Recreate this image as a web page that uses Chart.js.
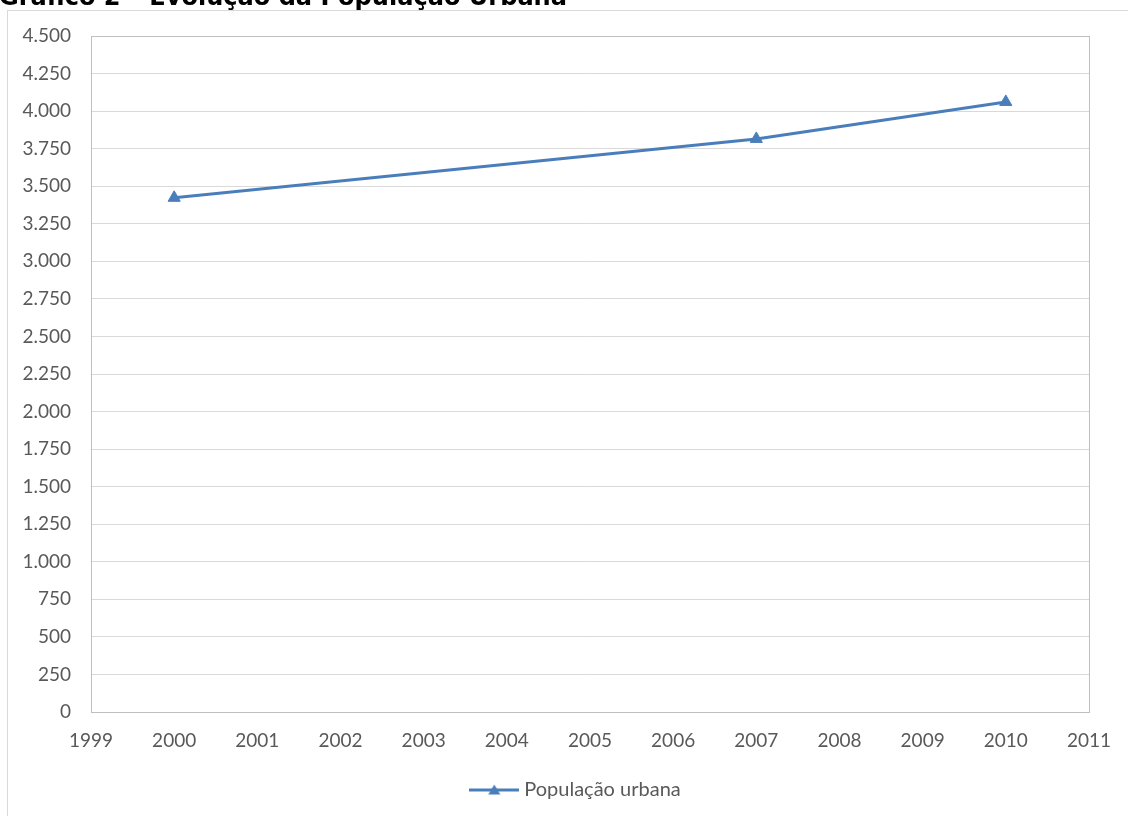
<!DOCTYPE html>
<html>
<head>
<meta charset="utf-8">
<script src="https://cdn.jsdelivr.net/npm/chart.js@4/dist/chart.umd.min.js"></script>
<style>
  html, body { margin: 0; padding: 0; background: #ffffff; }
  #wrap { width: 1128px; height: 816px; position: relative; }
</style>
</head>
<body>
<div id="wrap"><canvas id="chart" width="1128" height="816"></canvas></div>
<script>
// Urban population by census year
const years = [2000, 2007, 2010];
const urbanPopulation = [3423, 3815, 4061];
const seriesName = 'População urbana';
const chartTitle = 'Gráfico 2 – Evolução da População Urbana';
const yTicks = { min: 0, max: 4500, step: 250 };
const xTicks = { min: 1999, max: 2011, step: 1 };

const LINE_COLOR = '#4a7ebb';
const TEXT_COLOR = '#595959';
const FONT = 'Lato, "Open Sans", sans-serif';
const LEGEND_SHIFT = 27;

// Thousands separated with a dot
function fmt(v) {
  return String(Math.round(v)).replace(/\B(?=(\d{3})+(?!\d))/g, '.');
}

// Legend symbol: line segment with a triangle marker
function legendSymbol() {
  const c = document.createElement('canvas');
  c.width = 50; c.height = 16;
  const g = c.getContext('2d');
  g.strokeStyle = LINE_COLOR;
  g.lineWidth = 3;
  g.beginPath(); g.moveTo(0, 8); g.lineTo(50, 8); g.stroke();
  g.fillStyle = LINE_COLOR;
  g.beginPath(); g.moveTo(25, 2.5); g.lineTo(31, 12.5); g.lineTo(19, 12.5); g.closePath(); g.fill();
  return c;
}

// Outer frame, clipped heading, plot-area border and legend placement
const framePlugin = {
  id: 'frame',
  afterLayout(chart) {
    const lg = chart.legend;
    if (lg) {
      lg.left += LEGEND_SHIFT;
      lg.right += LEGEND_SHIFT;
    }
  },
  beforeDraw(chart) {
    const ctx = chart.ctx;
    ctx.save();
    ctx.strokeStyle = '#d9d9d9';
    ctx.lineWidth = 1;
    ctx.strokeRect(7.5, 10.5, 1200, 900);
    ctx.restore();
  },
  afterDraw(chart) {
    const ctx = chart.ctx;
    const a = chart.chartArea;
    ctx.save();
    ctx.strokeStyle = '#bfbfbf';
    ctx.lineWidth = 1;
    ctx.strokeRect(Math.round(a.left) + 0.5, Math.round(a.top) + 0.5,
                   Math.round(a.right - a.left), Math.round(a.bottom - a.top));
    // heading sits above the canvas edge, only its lower part shows
    let size = 18;
    ctx.font = 'bold ' + size + 'px "DejaVu Sans", Verdana, sans-serif';
    const w = ctx.measureText(chartTitle).width;
    size = size * 568 / w;
    ctx.font = 'bold ' + size.toFixed(2) + 'px "DejaVu Sans", Verdana, sans-serif';
    ctx.fillStyle = '#000000';
    ctx.textBaseline = 'alphabetic';
    ctx.fillText(chartTitle, -1, 5);
    ctx.restore();
  }
};

new Chart(document.getElementById('chart'), {
  type: 'line',
  data: {
    datasets: [{
      label: seriesName,
      data: years.map((y, i) => ({ x: y, y: urbanPopulation[i] })),
      borderColor: LINE_COLOR,
      backgroundColor: LINE_COLOR,
      borderWidth: 3,
      tension: 0,
      pointStyle: 'triangle',
      pointRadius: 7,
      pointHoverRadius: 7,
      pointBorderWidth: 1,
      pointBackgroundColor: LINE_COLOR,
      pointBorderColor: LINE_COLOR
    }]
  },
  options: {
    responsive: false,
    animation: false,
    events: [],
    layout: { padding: { left: 10, right: 37, top: 36, bottom: 6 } },
    scales: {
      x: {
        type: 'linear',
        min: xTicks.min,
        max: xTicks.max,
        afterFit(s) { s.height = 60; },
        ticks: {
          stepSize: xTicks.step,
          autoSkip: false,
          maxRotation: 0,
          padding: 17,
          color: TEXT_COLOR,
          font: { family: FONT, size: 19 },
          callback: v => String(v)
        },
        grid: { display: false, drawTicks: false },
        border: { display: true, color: '#bfbfbf', width: 1 }
      },
      y: {
        min: yTicks.min,
        max: yTicks.max,
        afterFit(s) { s.width = 81; },
        ticks: {
          stepSize: yTicks.step,
          autoSkip: false,
          padding: 20,
          color: TEXT_COLOR,
          font: { family: FONT, size: 19 },
          callback: v => fmt(v)
        },
        grid: { color: '#d9d9d9', lineWidth: 1, drawTicks: false },
        border: { display: true, color: '#bfbfbf', width: 1 }
      }
    },
    plugins: {
      legend: {
        position: 'bottom',
        labels: {
          usePointStyle: true,
          pointStyleWidth: 40,
          color: TEXT_COLOR,
          font: { family: FONT, size: 20 },
          padding: 8,
          generateLabels(chart) {
            return [{
              text: seriesName,
              pointStyle: legendSymbol(),
              fontColor: TEXT_COLOR,
              strokeStyle: LINE_COLOR,
              fillStyle: LINE_COLOR,
              lineWidth: 0,
              datasetIndex: 0,
              hidden: false
            }];
          }
        }
      },
      tooltip: { enabled: false },
      title: { display: false }
    }
  },
  plugins: [framePlugin]
});
</script>
</body>
</html>
